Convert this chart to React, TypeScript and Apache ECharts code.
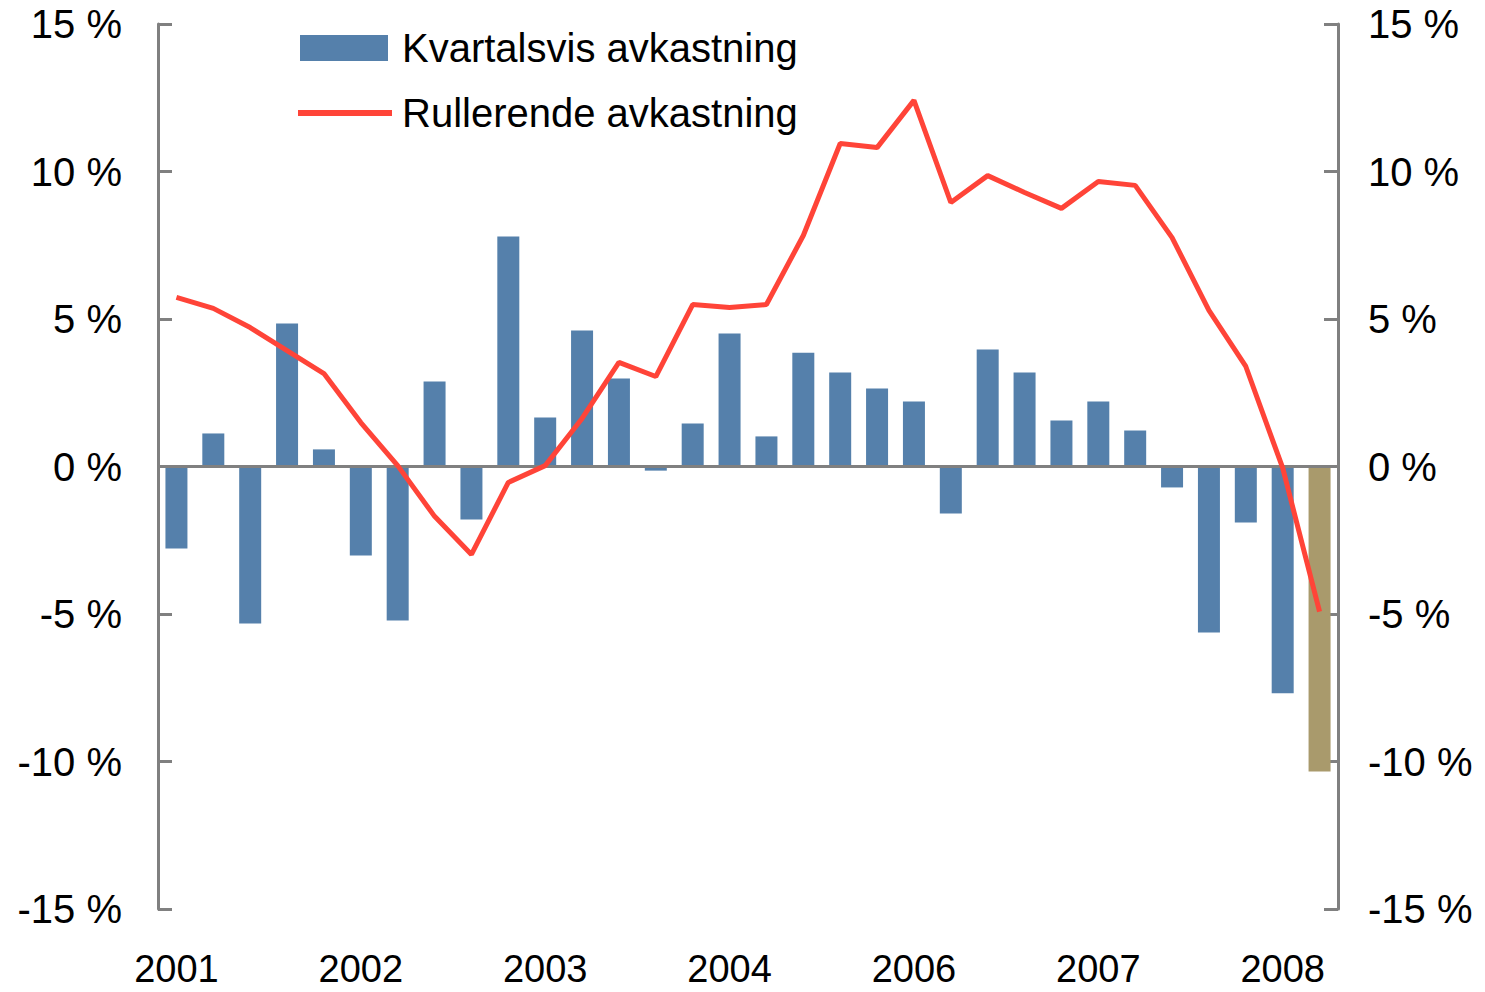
import React, { useEffect, useRef } from "react";
import * as echarts from "echarts";

const xTickLabels = [
  "2001", "", "", "", "",
  "2002", "", "", "", "",
  "2003", "", "", "", "",
  "2004", "", "", "", "",
  "2006", "", "", "", "",
  "2007", "", "", "", "",
  "2008", "",
];
const categories = xTickLabels.map((_, i) => `K${i + 1}`);

const quarterlyReturn = [
  -2.78, 1.12, -5.32, 4.85, 0.58, -3.02, -5.22, 2.88, -1.8, 7.8,
  1.66, 4.61, 2.98, -0.14, 1.46, 4.51, 1.02, 3.86, 3.19, 2.64,
  2.2, -1.59, 3.97, 3.19, 1.56, 2.2, 1.22, -0.71, -5.63, -1.9,
  -7.69, -10.34,
];

const rollingReturn = [
  5.73, 5.36, 4.71, 3.93, 3.15, 1.49, 0.03, -1.69, -2.98, -0.54,
  0.03, 1.63, 3.53, 3.05, 5.49, 5.39, 5.49, 7.83, 10.95, 10.81,
  12.41, 8.95, 9.86, 9.29, 8.75, 9.66, 9.53, 7.76, 5.29, 3.39,
  -0.05, -4.92,
];

const seriesNames = ["Kvartalsvis avkastning", "Rullerende avkastning"];

const BLUE = "#5580ab";
const GOLD = "#a99a6c";
const RED = "#ff4438";
const GRAY = "#808080";
const FONT = "Liberation Sans, Arial, sans-serif";

export default function App() {
  const ref = useRef<HTMLDivElement>(null);

  useEffect(() => {
    document.body.style.margin = "0";
    if (!ref.current) return;
    const chart = echarts.init(ref.current, undefined, { renderer: "svg" });
    const lastIdx = quarterlyReturn.length - 1;
    const yAxisBase = {
      type: "value",
      min: -15,
      max: 15,
      interval: 5,
      splitLine: { show: false },
      axisLine: { show: true, lineStyle: { color: GRAY, width: 3 } },
      axisTick: { show: true, inside: true, length: 14, lineStyle: { color: GRAY, width: 3 } },
    };
    chart.setOption({
      animation: false,
      backgroundColor: "#ffffff",
      textStyle: { fontFamily: FONT },
      grid: { left: 158, right: 147, top: 24, bottom: 83, containLabel: false },
      legend: [
        {
          data: [{ name: seriesNames[0], icon: "rect" }],
          left: 300,
          top: 28,
          padding: 0,
          itemWidth: 88,
          itemHeight: 26,
          selectedMode: false,
          textStyle: { fontSize: 40, color: "#000", fontFamily: FONT, padding: [0, 0, 0, 9] },
        },
        {
          data: [{ name: seriesNames[1], icon: "rect" }],
          left: 298,
          top: 93,
          padding: 0,
          itemWidth: 94,
          itemHeight: 6,
          selectedMode: false,
          textStyle: { fontSize: 40, color: "#000", fontFamily: FONT, padding: [0, 0, 0, 5] },
        },
      ],
      xAxis: {
        type: "category",
        data: categories,
        boundaryGap: true,
        axisLine: { show: false, onZero: false },
        axisTick: { show: false },
        axisLabel: {
          interval: 0,
          margin: 42,
          fontSize: 38,
          lineHeight: 36,
          color: "#000",
          fontFamily: FONT,
          formatter: (_v: string, i: number) => xTickLabels[i],
        },
      },
      yAxis: [
        {
          ...yAxisBase,
          position: "left",
          axisLabel: {
            margin: 36,
            fontSize: 40,
            color: "#000",
            fontFamily: FONT,
            formatter: (v: number) => `${v} %`,
          },
        },
        {
          ...yAxisBase,
          position: "right",
          axisLabel: {
            margin: 30,
            fontSize: 40,
            color: "#000",
            fontFamily: FONT,
            formatter: (v: number) => `${v} %`,
          },
        },
      ],
      series: [
        {
          name: seriesNames[0],
          type: "bar",
          barWidth: 22,
          itemStyle: { color: BLUE },
          data: quarterlyReturn.map((v, i) =>
            i === lastIdx ? { value: v, itemStyle: { color: GOLD } } : v
          ),
          markLine: {
            silent: true,
            symbol: ["none", "none"],
            label: { show: false },
            lineStyle: { color: GRAY, width: 3, type: "solid" },
            data: [{ yAxis: 0 }],
          },
        },
        {
          name: seriesNames[1],
          type: "line",
          symbol: "none",
          z: 5,
          itemStyle: { color: RED },
          lineStyle: { color: RED, width: 5 },
          data: rollingReturn,
        },
      ],
    });
    return () => chart.dispose();
  }, []);

  return <div ref={ref} style={{ width: 1485, height: 992 }} />;
}
